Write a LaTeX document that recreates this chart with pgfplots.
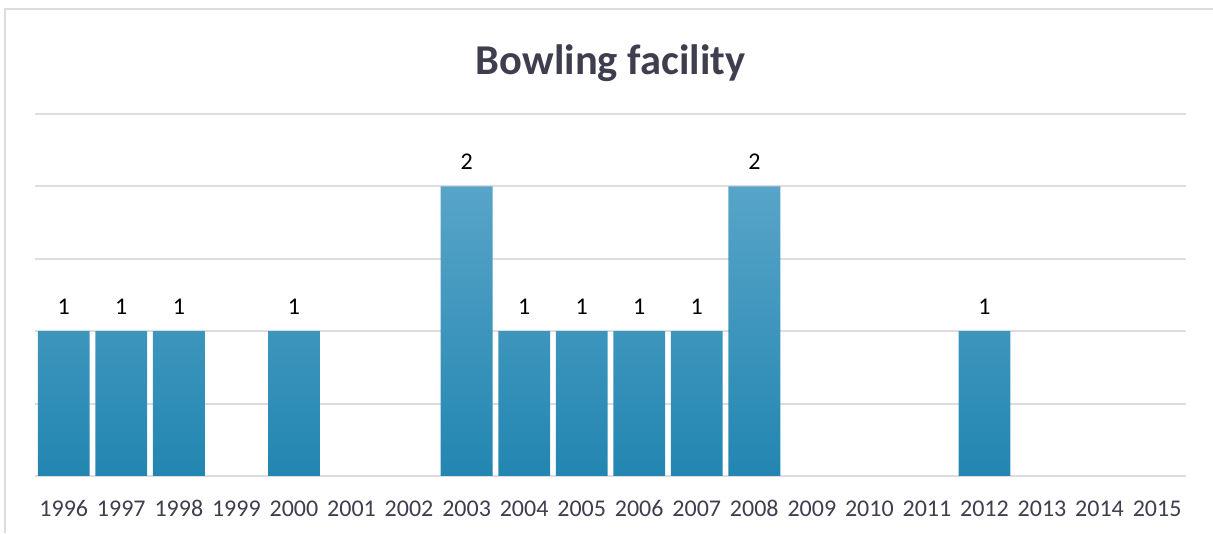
\documentclass[border=0pt]{standalone}
\usepackage{pgfplots}
\pgfplotsset{compat=1.18}
\usepackage{fontspec}
\setmainfont{Carlito}
\definecolor{gridc}{HTML}{DCDCE2}
\definecolor{txtc}{HTML}{3E3E4E}
\definecolor{bartop}{HTML}{58A4C8}
\definecolor{barbot}{HTML}{2286B1}
\begin{document}
\begin{tikzpicture}
\useasboundingbox (0pt,0pt) rectangle (1213pt,533pt);
\draw[gridc, line width=2pt] (5pt,0pt) -- (5pt,524pt) -- (1213pt,524pt);
\begin{axis}[
  at={(35pt,57pt)}, anchor=south west,
  scale only axis, width=1151pt, height=362pt,
  xmin=1995.5, xmax=2015.5, ymin=0, ymax=2.5,
  xtick={1996,...,2015}, ytick={0,0.5,...,2.5},
  yticklabels={},
  xticklabel style={/pgf/number format/1000 sep={}, font=\fontsize{24}{27}\selectfont, text=txtc, yshift=-21pt},
  /pgf/number format/assume math mode=true,
  major tick length=0pt,
  tick style={draw=none},
  axis line style={draw=none},
  ymajorgrids, major grid style={gridc, line width=2pt},
  title={\textbf{Bowling facility}},
  title style={font=\fontsize{42.5}{46}\selectfont, text=txtc, at={(0.5,1)}, anchor=center, yshift=45pt},
  y filter/.expression={y==0 ? nan : y},
  unbounded coords=discard,
]
\addplot[ybar, bar width=0.9, draw=none, top color=bartop, bottom color=barbot,
  nodes near coords, nodes near coords style={font=\fontsize{24}{27}\selectfont, text=black, yshift=13pt, /pgf/number format/assume math mode=true}]
 coordinates {
 (1996,1) (1997,1) (1998,1) (1999,0) (2000,1) (2001,0) (2002,0) (2003,2) (2004,1) (2005,1)
 (2006,1) (2007,1) (2008,2) (2009,0) (2010,0) (2011,0) (2012,1) (2013,0) (2014,0) (2015,0)
 };
\end{axis}
\end{tikzpicture}
\end{document}
